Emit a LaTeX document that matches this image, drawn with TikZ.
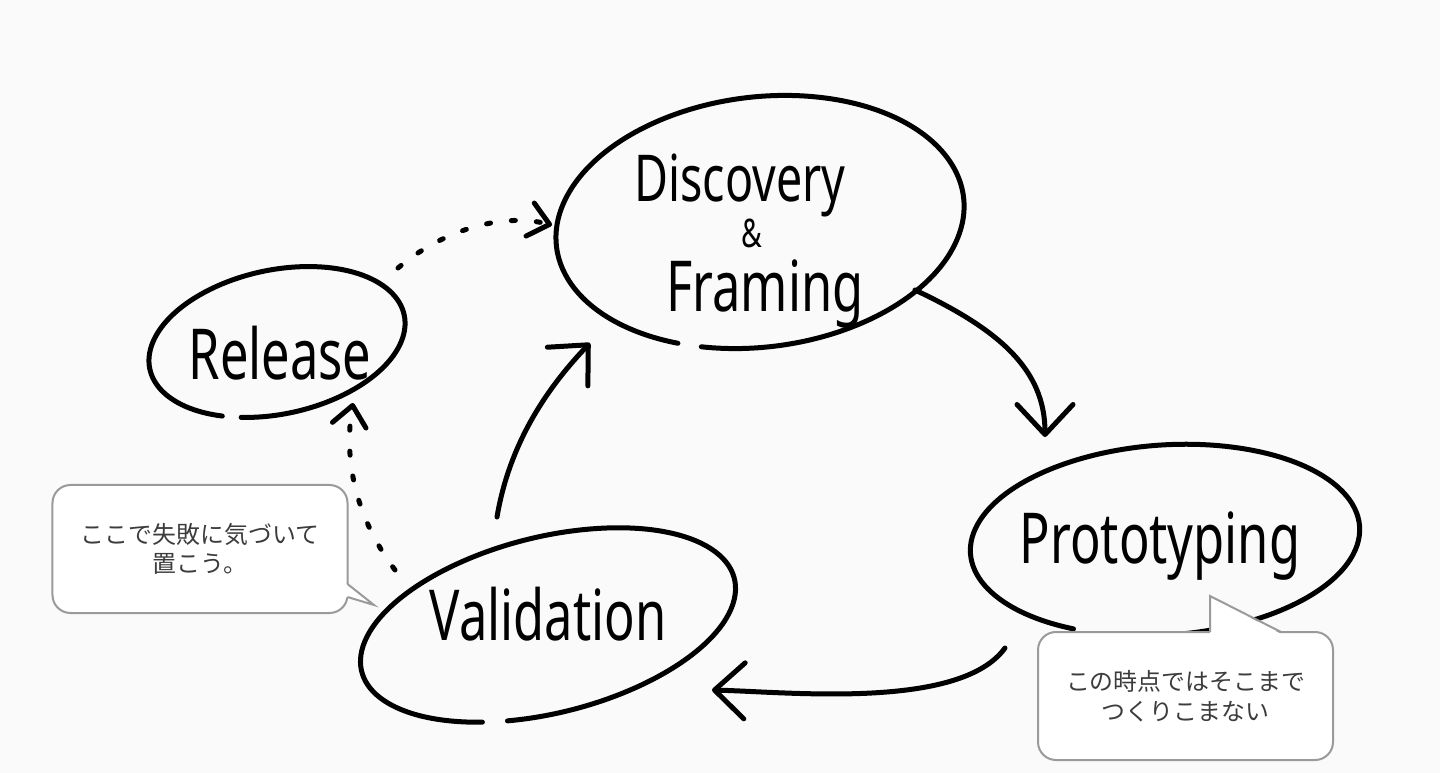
\documentclass[tikz,border=0pt]{standalone}
\usepackage{fontspec}
\usepackage{tikz}
\usetikzlibrary{arrows.meta}
\newfontfamily\hand[FakeStretch=0.72]{Noto Sans}
\newfontfamily\cjk{Noto Sans CJK JP}
\definecolor{paper}{HTML}{FAFAFA}
\definecolor{rim}{HTML}{9A9A9A}
\definecolor{note}{HTML}{3C3C3C}

\begin{document}
\begin{tikzpicture}[x=0.25mm, y=0.25mm,
  ink/.style={line width=1.25mm, line cap=round, line join=round},
  flow/.style={ink, -{Straight Barb[round, length=7.5mm, width=14mm]}},
  hint/.style={ink, dash pattern=on 1mm off 5.25mm, -{Straight Barb[round, length=5mm, width=8.5mm]}},
  word/.style={font=\hand\fontsize{50}{56}\selectfont, inner sep=0pt, anchor=base},
  bubble/.style={draw=rim, line width=0.5mm, fill=white, rounded corners=4.5mm,
                 minimum width=73.75mm, minimum height=32mm, align=center,
                 font=\cjk\fontsize{17}{21}\selectfont, text=note},
  tail/.style={draw=rim, line width=0.5mm}]
\fill[paper] (0,0) rectangle (1440,-773);
% loops
\draw[ink, shift={(760,-222)}, rotate=7] (249:205 and 125) arc[start angle=249, end angle=602, x radius=205, y radius=125];
\draw[ink, shift={(277,-342)}, rotate=12] (247:130 and 72) arc[start angle=247, end angle=598, x radius=130, y radius=72];
\draw[ink, shift={(548,-625)}, rotate=14] (251:192 and 88) arc[start angle=251, end angle=603, x radius=192, y radius=88];
\draw[ink, shift={(1165,-540)}, rotate=4] (250:195 and 95) arc[start angle=250, end angle=600, x radius=195, y radius=95];
% labels
\node[word, font=\hand\fontsize{46}{52}\selectfont] (disc) at (740,-202) {Discovery};
\node[word, font=\hand\fontsize{28}{32}\selectfont] (amp) at (752,-248) {\&};
\node[word] (framing) at (765,-312) {Framing};
\node[word] (release) at (280,-380) {Release};
\node[word] (valid) at (548,-640) {Validation};
\node[word] (proto) at (1160,-563) {Prototyping};
% ends of the arrows
\coordinate (a1s) at (915,-290);  \coordinate (a1e) at (1045,-437);
\coordinate (a2s) at (1005,-648); \coordinate (a2e) at (712,-690);
\coordinate (a3s) at (497,-517);  \coordinate (a3e) at (590,-343);
\coordinate (a4s) at (395,-570);  \coordinate (a4e) at (353,-403);
\coordinate (a5s) at (398,-268);  \coordinate (a5e) at (552,-225);
\draw[flow] (a1s) .. controls (1000,-330) and (1045,-370) .. (a1e);
\draw[flow] (a2s) .. controls (960,-710) and (790,-692) .. (a2e);
\draw[flow] (a3s) .. controls (510,-440) and (550,-385) .. (a3e);
\draw[hint] (a4s) .. controls (350,-510) and (345,-450) .. (a4e);
\draw[hint] (a5s) .. controls (440,-232) and (500,-212) .. (a5e);
% notes
\node[bubble] (note1) at (200,-549) {ここで失敗に気づいて\\置こう。};
\fill[white] (343,-584) -- (347,-584) -- (374,-605) -- (347,-597) -- (343,-597) -- cycle;
\draw[tail] (347.5,-584) -- (374,-605) -- (347.5,-597);
\node[bubble] (note2) at (1185.5,-696) {この時点ではそこまで\\つくりこまない};
\fill[white] (1210,-635) -- (1210,-596) -- (1283,-635) -- cycle;
\draw[tail] (1210,-632) -- (1210,-596) -- (1281,-632);
\end{tikzpicture}
\end{document}
